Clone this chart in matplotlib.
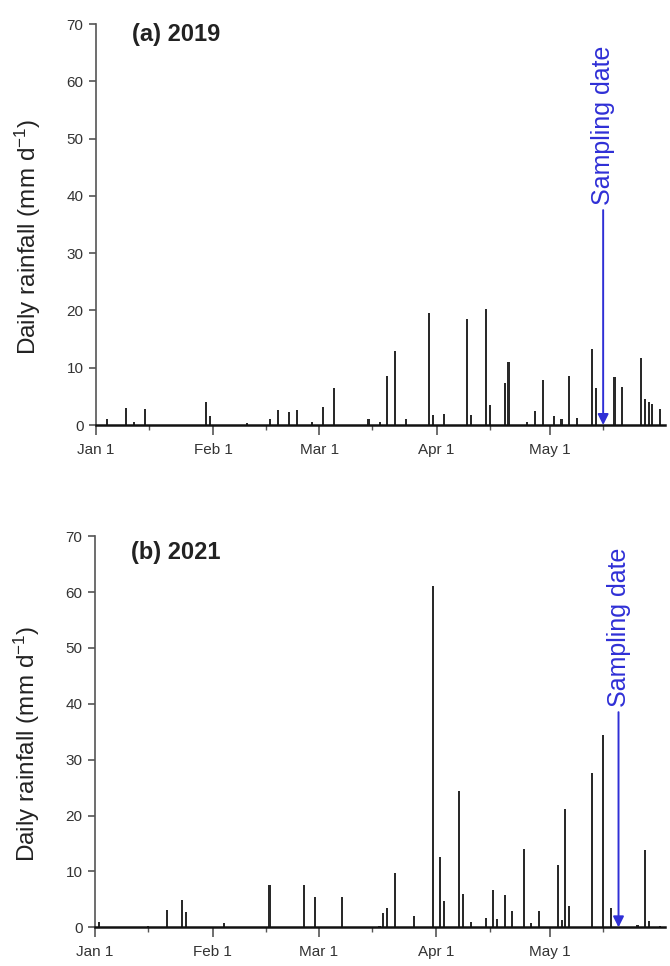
import matplotlib
matplotlib.use("Agg")
import matplotlib.pyplot as plt
import numpy as np

plt.rcParams['font.family'] = ['Liberation Sans', 'DejaVu Sans']
plt.rcParams['mathtext.fontset'] = 'custom'
plt.rcParams['mathtext.rm'] = 'Liberation Sans'
plt.rcParams['mathtext.it'] = 'Liberation Sans:italic'

# ---- data (day of year, 0 = Jan 1) ----
days_2019 = [3, 8, 10, 13, 29, 30, 40, 46, 48, 51, 53, 57, 60, 63, 72, 75, 77, 79,
             82, 88, 89, 92, 98, 99, 103, 104, 108, 109, 114, 116, 118, 121, 123,
             125, 127, 131, 132, 137, 139, 144, 145, 146, 147, 149]
rain_2019 = [1.1, 3.0, 0.5, 2.8, 4.0, 1.5, 0.3, 1.0, 2.7, 2.2, 2.6, 0.5, 3.2, 6.5,
             1.0, 0.6, 8.6, 13.0, 1.1, 19.6, 1.8, 2.0, 18.5, 1.8, 20.3, 3.5, 7.3,
             11.0, 0.5, 2.5, 7.9, 1.6, 1.0, 8.6, 1.2, 13.3, 6.4, 8.4, 6.7, 11.7,
             4.5, 4.0, 3.6, 2.8]

days_2021 = [1, 14, 19, 23, 24, 34, 46, 55, 58, 65, 75, 76, 77, 79, 84, 89, 91, 92,
             96, 97, 99, 103, 105, 106, 108, 110, 113, 115, 117, 122, 123, 124, 125,
             131, 134, 136, 143, 145, 146, 149]
rain_2021 = [1.0, 0.3, 3.1, 4.9, 2.8, 0.8, 7.6, 7.6, 5.5, 5.5, 0.3, 2.6, 3.4, 9.7,
             2.0, 61.0, 12.6, 4.8, 24.4, 6.0, 1.0, 1.6, 6.7, 1.5, 5.8, 2.9, 14.1,
             0.7, 2.9, 11.1, 1.4, 21.2, 3.8, 27.7, 34.4, 3.5, 0.5, 13.9, 1.1, 0.3]

panel_titles = ['(a) 2019', '(b) 2021']
sampling_days = [134, 138]
month_ticks = [0, 31, 59, 90, 120]
month_labels = ['Jan 1', 'Feb 1', 'Mar 1', 'Apr 1', 'May 1']
mid_ticks = [14, 45, 73, 104, 134]
y_ticks = [0, 10, 20, 30, 40, 50, 60, 70]

blue = '#2f2fd6'
bar_color = '#2a2a2a'

fig = plt.figure(figsize=(6.7, 9.66), dpi=100)
ax_rects = [[0.1433, 0.560, 0.849, 0.415],
            [0.1418, 0.040, 0.851, 0.405]]
series = [(days_2019, rain_2019), (days_2021, rain_2021)]

for i, (rect, (d, r)) in enumerate(zip(ax_rects, series)):
    ax = fig.add_axes(rect)
    ax.bar(d, r, width=0.55, color=bar_color, linewidth=0)
    ax.set_xlim(0, 150.3)
    ax.set_ylim(0, 70)
    ax.set_yticks(y_ticks)
    ax.set_xticks(month_ticks)
    ax.set_xticklabels(month_labels)
    ax.set_xticks(mid_ticks, minor=True)
    for s in ['top', 'right']:
        ax.spines[s].set_visible(False)
    ax.spines['left'].set_color('#555555')
    ax.spines['left'].set_linewidth(1.2)
    ax.spines['bottom'].set_color('#111111')
    ax.spines['bottom'].set_linewidth(1.8)
    ax.tick_params(axis='y', direction='out', length=5, width=1.2, colors='#555555',
                   labelsize=11, labelcolor='#333333', pad=4)
    ax.tick_params(axis='x', which='major', direction='out', length=7, width=1.2,
                   colors='#555555', labelsize=11, labelcolor='#333333', pad=6)
    ax.tick_params(axis='x', which='minor', direction='out', length=3.5, width=1.0,
                   colors='#555555')
    ax.set_ylabel(r'Daily rainfall (mm d$^{\mathregular{-1}}$)', fontsize=17.5,
                  color='#222222')
    ax.yaxis.set_label_coords(-0.093, 0.47)
    ax.text(0.063, 0.975 if i == 0 else 0.957, panel_titles[i], transform=ax.transAxes,
            fontsize=17, fontweight='bold', va='center', ha='left', color='#222222')
    sd = sampling_days[i]
    ax.annotate('Sampling date', xy=(sd, 0), xytext=(sd, 38.5 if i == 0 else 39.5),
                rotation=90, ha='center', va='bottom', fontsize=18, color=blue,
                arrowprops=dict(arrowstyle='-|>', color=blue, lw=1.4,
                                mutation_scale=16, shrinkA=2, shrinkB=0))

fig.savefig('out.png', dpi=100)
